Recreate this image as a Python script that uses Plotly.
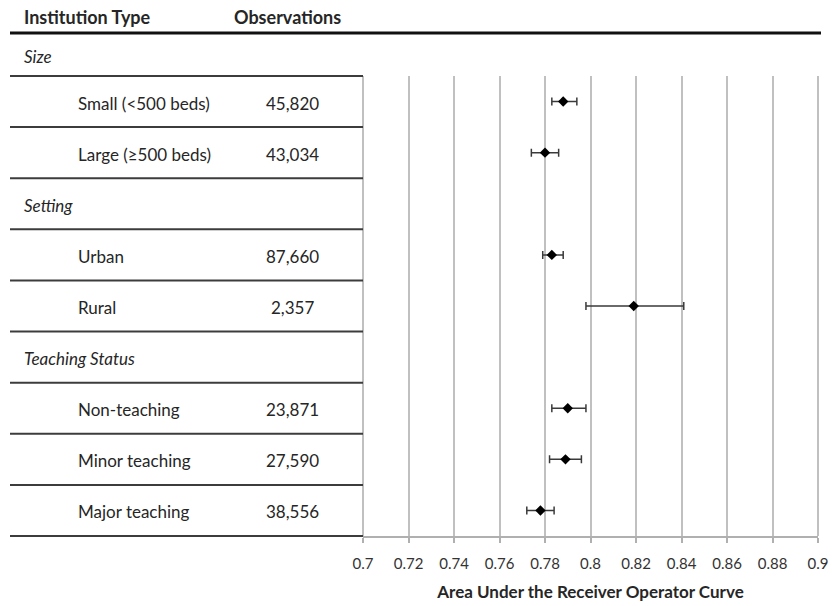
import plotly.graph_objects as go

# ---- data ----
groups = ["Size", "Setting", "Teaching Status"]
group_sizes = [2, 2, 3]
labels = ["Small (<500 beds)", "Large (≥500 beds)", "Urban", "Rural",
          "Non-teaching", "Minor teaching", "Major teaching"]
observations = ["45,820", "43,034", "87,660", "2,357", "23,871", "27,590", "38,556"]
auc = [0.788, 0.780, 0.783, 0.819, 0.790, 0.789, 0.778]
ci_low = [0.783, 0.774, 0.779, 0.798, 0.783, 0.782, 0.772]
ci_high = [0.794, 0.786, 0.788, 0.841, 0.798, 0.796, 0.784]
tick_vals = [0.7, 0.72, 0.74, 0.76, 0.78, 0.8, 0.82, 0.84, 0.86, 0.88, 0.9]
tick_text = ["0.7", "0.72", "0.74", "0.76", "0.78", "0.8", "0.82", "0.84", "0.86", "0.88", "0.9"]

# ---- layout geometry ----
W, H = 833, 606
L, R, T, B = 363, 15, 76, 70
PW = W - L - R
PH = H - T - B


def px_x(px):
    return (px - L) / PW


def px_y(py):
    return 1 - (py - T) / PH


FONT = "Lato, 'Open Sans', sans-serif"
TXT = "#262626"

# row positions in "row units" (0 = top of plot area), group headers interleaved
row_pos = []
header_pos = []
r = -1
for g, n in zip(groups, group_sizes):
    header_pos.append(r + 0.5)
    r += 1
    for _ in range(n):
        row_pos.append(r + 0.5)
        r += 1
n_rows = r  # rows inside plot area
ROW_PX = PH / n_rows
TEXT_DY = 1.5 / PH  # small downward nudge of row text, paper units


def row_to_paper(v):
    return 1 - v / n_rows


fig = go.Figure()
fig.add_trace(go.Scatter(
    x=auc, y=row_pos, mode="markers",
    marker=dict(symbol="diamond", size=8, color="black"),
    error_x=dict(type="data", symmetric=False,
                 array=[h - a for h, a in zip(ci_high, auc)],
                 arrayminus=[a - l for a, l in zip(auc, ci_low)],
                 color="#3a3a3a", thickness=1.5, width=4),
    showlegend=False, hoverinfo="x+y",
))

annotations = []
shapes = []
xl = px_x(10)
x_label = px_x(76)
x_obs = px_x(292)
x_head = px_x(22)

# column headers
y_head = px_y(17)
for txt, xp in (("Institution Type", x_head), ("Observations", px_x(232))):
    annotations.append(dict(text="<b>" + txt + "</b>", x=xp, y=y_head, xref="paper", yref="paper",
                            xanchor="left", yanchor="middle", showarrow=False,
                            font=dict(family=FONT, size=18, color=TXT)))
# top thick rule
y_top = px_y(33)
shapes.append(dict(type="line", xref="paper", yref="paper", x0=xl, x1=px_x(821),
                   y0=y_top, y1=y_top, line=dict(color="#111111", width=3)))

for i, (g, hp) in enumerate(zip(groups, header_pos)):
    if i == 0:
        yp = (y_top + 1) / 2  # first header sits between top rule and plot top
    else:
        yp = row_to_paper(hp)
    annotations.append(dict(text="<i>" + g + "</i>", x=x_head, y=yp - TEXT_DY,
                            xref="paper", yref="paper",
                            xanchor="left", yanchor="middle", showarrow=False,
                            font=dict(family=FONT, size=17, color=TXT)))
for lab, obs, yp in zip(labels, observations, row_pos):
    annotations.append(dict(text=lab, x=x_label, y=row_to_paper(yp) - TEXT_DY,
                            xref="paper", yref="paper",
                            xanchor="left", yanchor="middle", showarrow=False,
                            font=dict(family=FONT, size=17, color=TXT)))
    annotations.append(dict(text=obs, x=x_obs, y=row_to_paper(yp) - TEXT_DY,
                            xref="paper", yref="paper",
                            xanchor="center", yanchor="middle", showarrow=False,
                            font=dict(family=FONT, size=17, color=TXT)))

for k in range(n_rows + 1):
    shapes.append(dict(type="line", xref="paper", yref="paper", x0=xl, x1=0,
                       y0=row_to_paper(k), y1=row_to_paper(k),
                       line=dict(color="#3c3c3c", width=2)))
# plot edge vertical lines
for xv in (0, 1):
    shapes.append(dict(type="line", xref="paper", yref="paper", x0=xv, x1=xv, y0=0, y1=1,
                       line=dict(color="#c0c0c0", width=2), layer="below"))

fig.update_layout(
    width=W, height=H,
    margin=dict(l=L, r=R, t=T, b=B, pad=0, autoexpand=False),
    paper_bgcolor="white", plot_bgcolor="white",
    font=dict(family=FONT, color=TXT),
    xaxis=dict(range=[0.7, 0.9], tickvals=tick_vals, ticktext=tick_text,
               showgrid=True, gridcolor="#c0c0c0", gridwidth=2,
               showline=True, linecolor="#b0b0b0", linewidth=1.5,
               ticks="outside", ticklen=5, tickcolor="#b0b0b0", tickwidth=1.5,
               ticklabelstandoff=8,
               tickfont=dict(family=FONT, size=15, color="#333333"),
               zeroline=False, fixedrange=True, automargin=False,
               title=dict(text="<b>Area Under the Receiver Operator Curve</b>",
                          font=dict(family=FONT, size=17, color=TXT), standoff=15)),
    yaxis=dict(range=[n_rows, 0], showgrid=False, zeroline=False, showticklabels=False,
               showline=False, ticks="", fixedrange=True, automargin=False),
    annotations=annotations, shapes=shapes,
)

fig.write_html("out.html", config={"displayModeBar": False},
               post_script="document.body.style.margin='0px';")
